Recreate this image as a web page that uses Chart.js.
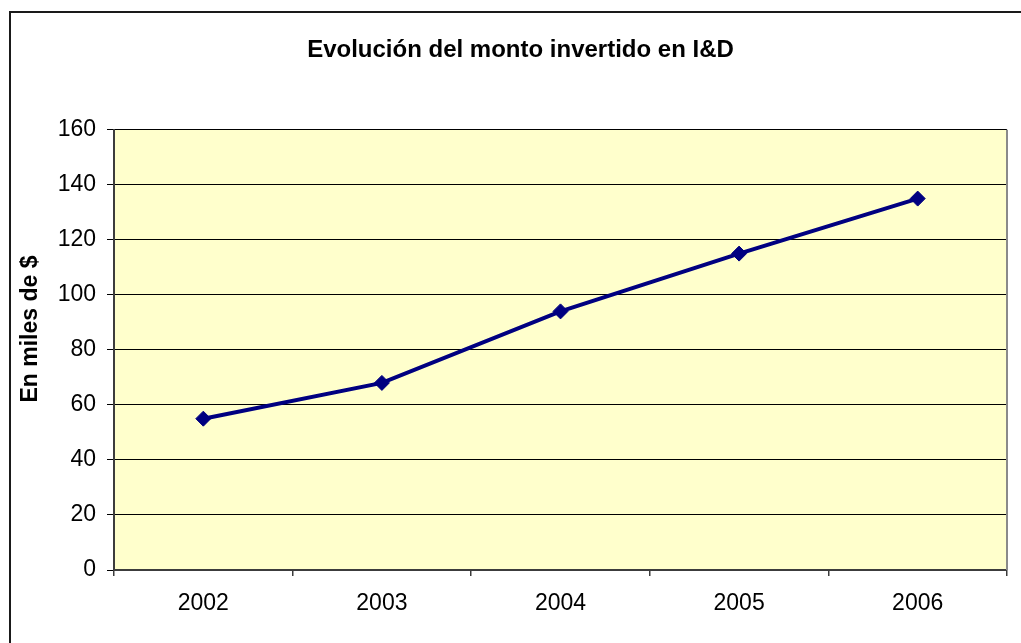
<!DOCTYPE html>
<html>
<head>
<meta charset="utf-8">
<script src="https://cdn.jsdelivr.net/npm/chart.js@4"></script>
<style>
html,body{margin:0;padding:0;background:#fff;}
#wrap{width:1021px;height:643px;position:relative;}
</style>
</head>
<body>
<div id="wrap"><canvas id="c" width="1021" height="643"></canvas></div>
<script>
const chartTitle = 'Evolución del monto invertido en I&D';
const yAxisTitle = 'En miles de $';
const years = ['2002', '2003', '2004', '2005', '2006'];
const investment = [55, 68, 94, 115, 135];
const yTicks = [0, 20, 40, 60, 80, 100, 120, 140, 160];

const FONT = "'Liberation Sans', Arial, sans-serif";

const decor = {
  id: 'decor',
  beforeDraw(chart) {
    const {ctx, chartArea: a} = chart;
    ctx.save();
    ctx.fillStyle = '#FFFFCC';
    ctx.fillRect(a.left, a.top, a.right - a.left, a.bottom - a.top);
    // outer frame
    ctx.strokeStyle = '#1a1a1a';
    ctx.lineWidth = 2;
    ctx.strokeRect(10, 12, 1040, 700);
    ctx.restore();
  },
  beforeDatasetsDraw(chart) {
    const {ctx, chartArea: a} = chart;
    ctx.save();
    ctx.strokeStyle = '#8a8a8a';
    ctx.lineWidth = 2;
    ctx.beginPath();
    ctx.moveTo(a.right, a.top);
    ctx.lineTo(a.right, a.bottom);
    ctx.stroke();
    ctx.restore();
  },
  afterDraw(chart) {
    const {ctx} = chart;
    ctx.save();
    ctx.translate(31, 329);
    ctx.rotate(-Math.PI / 2);
    ctx.font = 'bold 23px ' + FONT;
    ctx.fillStyle = '#000';
    ctx.textAlign = 'center';
    ctx.textBaseline = 'middle';
    ctx.fillText(yAxisTitle, 0, 0);
    ctx.restore();
  }
};

new Chart(document.getElementById('c'), {
  type: 'line',
  data: {
    labels: years,
    datasets: [{
      data: investment,
      borderColor: '#000080',
      backgroundColor: '#000080',
      borderWidth: 4,
      pointStyle: 'rectRot',
      pointRadius: 7.5,
      pointHoverRadius: 7.5,
      pointBackgroundColor: '#000080',
      pointBorderColor: '#000080',
      pointBorderWidth: 1,
      tension: 0,
      fill: false
    }]
  },
  options: {
    responsive: false,
    animation: false,
    events: [],
    layout: { padding: { left: 34, right: 14, top: 0, bottom: 0 } },
    plugins: {
      legend: { display: false },
      tooltip: { enabled: false },
      title: {
        display: true,
        text: chartTitle,
        color: '#000',
        font: { family: FONT, size: 24, weight: 'bold', lineHeight: 1.2 },
        padding: { top: 36, bottom: 65 }
      }
    },
    scales: {
      x: {
        type: 'category',
        offset: true,
        afterFit(s) { s.height = 73; },
        grid: {
          offset: true,
          drawOnChartArea: false,
          drawTicks: true,
          tickLength: 6,
          color: '#3c3c3c',
          lineWidth: 1.5
        },
        border: { display: true, color: '#3c3c3c', width: 2 },
        ticks: {
          color: '#000',
          padding: 14,
          maxRotation: 0,
          font: { family: FONT, size: 23 }
        }
      },
      y: {
        min: 0,
        max: 160,
        afterFit(s) { s.width = 80; },
        afterBuildTicks(s) { s.ticks = yTicks.map(v => ({ value: v })); },
        grid: {
          color: '#000',
          lineWidth: 1,
          drawTicks: true,
          tickLength: 7
        },
        border: { display: true, color: '#3c3c3c', width: 2 },
        ticks: {
          color: '#000',
          padding: 11,
          font: { family: FONT, size: 23 }
        }
      }
    }
  },
  plugins: [decor]
});
</script>
</body>
</html>
